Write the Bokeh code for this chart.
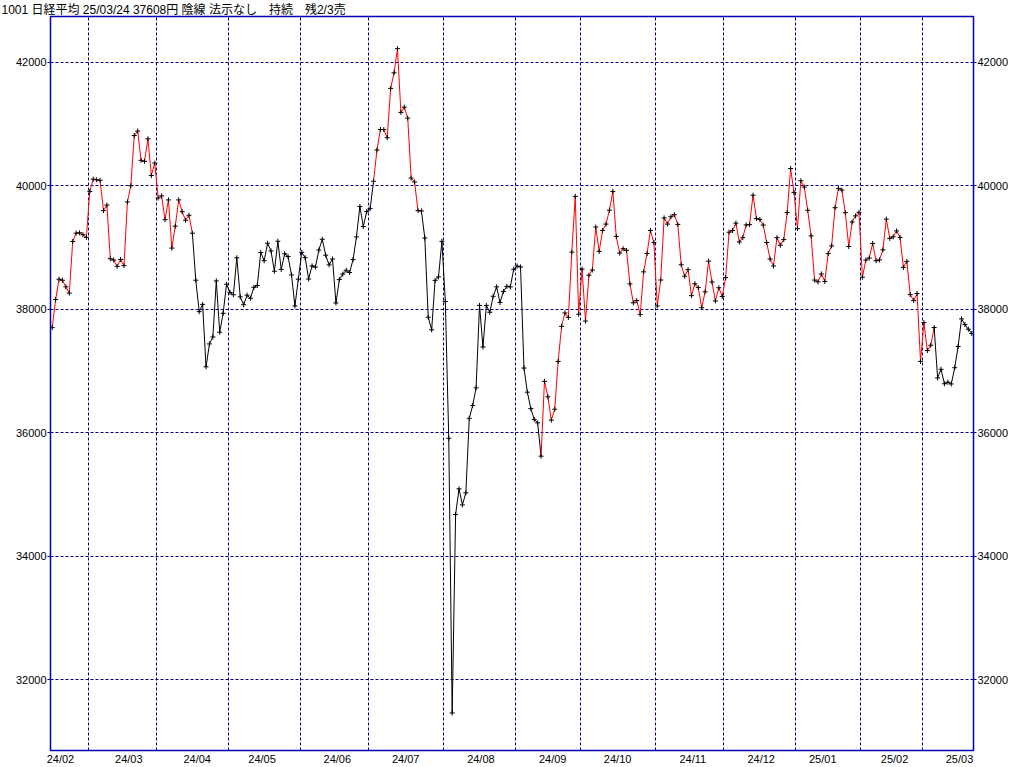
import pandas as pd
from bokeh.plotting import figure
from bokeh.models import Range1d, FixedTicker, LinearAxis, ColumnDataSource
from bokeh.embed import file_html
from bokeh.resources import INLINE

title_text = "1001 日経平均 25/03/24 37608円 陰線 法示なし\u3000持続\u3000残2/3売"

dates = [
    "2024-02-14", "2024-02-15", "2024-02-16", "2024-02-19", "2024-02-20", "2024-02-21", "2024-02-22",
    "2024-02-26", "2024-02-27", "2024-02-28", "2024-02-29",
    "2024-03-01", "2024-03-04", "2024-03-05", "2024-03-06", "2024-03-07", "2024-03-08", "2024-03-11",
    "2024-03-12", "2024-03-13", "2024-03-14", "2024-03-15", "2024-03-18", "2024-03-19", "2024-03-21",
    "2024-03-22", "2024-03-25", "2024-03-26", "2024-03-27", "2024-03-28", "2024-03-29",
    "2024-04-01", "2024-04-02", "2024-04-03", "2024-04-04", "2024-04-05", "2024-04-08", "2024-04-09",
    "2024-04-10", "2024-04-11", "2024-04-12", "2024-04-15", "2024-04-16", "2024-04-17", "2024-04-18",
    "2024-04-19", "2024-04-22", "2024-04-23", "2024-04-24", "2024-04-25", "2024-04-26", "2024-04-30",
    "2024-05-01", "2024-05-02", "2024-05-07", "2024-05-08", "2024-05-09", "2024-05-10", "2024-05-13",
    "2024-05-14", "2024-05-15", "2024-05-16", "2024-05-17", "2024-05-20", "2024-05-21", "2024-05-22",
    "2024-05-23", "2024-05-24", "2024-05-27", "2024-05-28", "2024-05-29", "2024-05-30", "2024-05-31",
    "2024-06-03", "2024-06-04", "2024-06-05", "2024-06-06", "2024-06-07", "2024-06-10", "2024-06-11",
    "2024-06-12", "2024-06-13", "2024-06-14", "2024-06-17", "2024-06-18", "2024-06-19", "2024-06-20",
    "2024-06-21", "2024-06-24", "2024-06-25", "2024-06-26", "2024-06-27", "2024-06-28",
    "2024-07-01", "2024-07-02", "2024-07-03", "2024-07-04", "2024-07-05", "2024-07-08", "2024-07-09",
    "2024-07-10", "2024-07-11", "2024-07-12", "2024-07-16", "2024-07-17", "2024-07-18", "2024-07-19",
    "2024-07-22", "2024-07-23", "2024-07-24", "2024-07-25", "2024-07-26", "2024-07-29", "2024-07-30",
    "2024-07-31",
    "2024-08-01", "2024-08-02", "2024-08-05", "2024-08-06", "2024-08-07", "2024-08-08", "2024-08-09",
    "2024-08-13", "2024-08-14", "2024-08-15", "2024-08-16", "2024-08-19", "2024-08-20", "2024-08-21",
    "2024-08-22", "2024-08-23", "2024-08-26", "2024-08-27", "2024-08-28", "2024-08-29", "2024-08-30",
    "2024-09-02", "2024-09-03", "2024-09-04", "2024-09-05", "2024-09-06", "2024-09-09", "2024-09-10",
    "2024-09-11", "2024-09-12", "2024-09-13", "2024-09-17", "2024-09-18", "2024-09-19", "2024-09-20",
    "2024-09-24", "2024-09-25", "2024-09-26", "2024-09-27", "2024-09-30",
    "2024-10-01", "2024-10-02", "2024-10-03", "2024-10-04", "2024-10-07", "2024-10-08", "2024-10-09",
    "2024-10-10", "2024-10-11", "2024-10-15", "2024-10-16", "2024-10-17", "2024-10-18", "2024-10-21",
    "2024-10-22", "2024-10-23", "2024-10-24", "2024-10-25", "2024-10-28", "2024-10-29", "2024-10-30",
    "2024-10-31",
    "2024-11-01", "2024-11-05", "2024-11-06", "2024-11-07", "2024-11-08", "2024-11-11", "2024-11-12",
    "2024-11-13", "2024-11-14", "2024-11-15", "2024-11-18", "2024-11-19", "2024-11-20", "2024-11-21",
    "2024-11-22", "2024-11-25", "2024-11-26", "2024-11-27", "2024-11-28", "2024-11-29",
    "2024-12-02", "2024-12-03", "2024-12-04", "2024-12-05", "2024-12-06", "2024-12-09", "2024-12-10",
    "2024-12-11", "2024-12-12", "2024-12-13", "2024-12-16", "2024-12-17", "2024-12-18", "2024-12-19",
    "2024-12-20", "2024-12-23", "2024-12-24", "2024-12-25", "2024-12-26", "2024-12-27", "2024-12-30",
    "2025-01-06", "2025-01-07", "2025-01-08", "2025-01-09", "2025-01-10", "2025-01-14", "2025-01-15",
    "2025-01-16", "2025-01-17", "2025-01-20", "2025-01-21", "2025-01-22", "2025-01-23", "2025-01-24",
    "2025-01-27", "2025-01-28", "2025-01-29", "2025-01-30", "2025-01-31",
    "2025-02-03", "2025-02-04", "2025-02-05", "2025-02-06", "2025-02-07", "2025-02-10", "2025-02-12",
    "2025-02-13", "2025-02-14", "2025-02-17", "2025-02-18", "2025-02-19", "2025-02-20", "2025-02-21",
    "2025-02-25", "2025-02-26", "2025-02-27", "2025-02-28",
    "2025-03-03", "2025-03-04", "2025-03-05", "2025-03-06", "2025-03-07", "2025-03-10", "2025-03-11",
    "2025-03-12", "2025-03-13", "2025-03-14", "2025-03-17", "2025-03-18", "2025-03-19", "2025-03-21",
    "2025-03-24",
]

closes = [
    37703, 38158, 38487, 38470, 38364, 38262, 39099, 39234, 39240, 39208, 39166,
    39911, 40109, 40098, 40091, 39599, 39689, 38820, 38798, 38696, 38807, 38708, 39740, 40004, 40816,
    40888, 40414, 40398, 40763, 40168, 40369,
    39803, 39839, 39452, 39773, 38992, 39347, 39773, 39582, 39443, 39524, 39233, 38471, 37962, 38080,
    37068, 37439, 37552, 38460, 37628, 37935, 38406,
    38274, 38236, 38835, 38202, 38074, 38229, 38179, 38356, 38386, 38920, 38787, 39070, 38947, 38617,
    39103, 38646, 38900, 38855, 38557, 38054, 38488,
    38923, 38837, 38490, 38704, 38684, 38960, 39135, 38877, 38720, 38815, 38102, 38482, 38571, 38633,
    38596, 38805, 39173, 39667, 39342, 39583,
    39631, 40075, 40581, 40914, 40912, 40781, 41580, 41832, 42224, 41191, 41275, 41098, 40126, 40064,
    39599, 39594, 39155, 37870, 37667, 38469, 38526, 39102,
    38126, 35910, 31458, 34675, 35090, 34831, 35025, 36233, 36442, 36727, 38063, 37389, 38063, 37952,
    38211, 38364, 38110, 38289, 38372, 38363, 38648,
    38701, 38686, 37048, 36657, 36391, 36216, 36159, 35620, 36833, 36582, 36203, 36380, 37155, 37724,
    37941, 37870, 38926, 39830, 37920,
    38652, 37809, 38552, 38636, 39333, 38938, 39278, 39381, 39606, 39911, 39180, 38911, 38982, 38955,
    38412, 38105, 38143, 37914, 38606, 38904, 39277, 39081,
    38054, 38475, 39481, 39381, 39500, 39533, 39376, 38722, 38536, 38643, 38221, 38414, 38352, 38026,
    38284, 38780, 38442, 38135, 38349, 38208,
    38513, 39249, 39276, 39396, 39091, 39161, 39368, 39372, 39849, 39470, 39457, 39365, 39082, 38814,
    38702, 39161, 39037, 39130, 39568, 40281, 39895,
    39307, 40083, 39981, 39605, 39190, 38474, 38445, 38573, 38451, 38903, 39028, 39646, 39959, 39932,
    39566, 39017, 39415, 39514, 39572,
    38520, 38798, 38831, 39067, 38787, 38801, 38964, 39461, 39149, 39174, 39270, 39165, 38678, 38777,
    38238, 38142, 38256, 37156,
    37785, 37331, 37418, 37705, 36887, 37028, 36793, 36819, 36790, 37053, 37397, 37845, 37752, 37677,
    37608,
]

# periods drawn in red (signal on)
red_periods = [("2024-02-14", "2024-04-15"), ("2024-07-02", "2024-07-23"), ("2024-09-11", "2025-03-06")]

y_ticks = [32000, 34000, 36000, 38000, 40000, 42000]
y_limits = [30850, 42745]

RED = "#ff0000"
BLACK = "#000000"
GRID = "#000080"
FRAME = "#0000b4"
TITLEFONT = "'Liberation Sans', 'Noto Sans CJK JP'"
NUMFONT = "Liberation Sans"

d = pd.to_datetime(dates)
n = len(d)
idx = list(range(n))

periods = [(pd.Timestamp(s), pd.Timestamp(e)) for s, e in red_periods]
seg_colors = []
for i in range(n - 1):
    a, b = d[i], d[i + 1]
    red = any(s <= a and b <= e for s, e in periods)
    seg_colors.append(RED if red else BLACK)

seg_src = ColumnDataSource(dict(x0=idx[:-1], y0=closes[:-1], x1=idx[1:], y1=closes[1:], c=seg_colors))
pt_src = ColumnDataSource(dict(x=idx, y=closes))

months = d.to_period("M")
bounds = [i - 0.5 for i in range(1, n) if months[i] != months[i - 1]]

label_pos = []
label_txt = {}
for m in months.unique():
    sel = [i for i in idx if months[i] == m and d[i].day <= 15]
    pos = round(sel[-1] + 1.4, 1)
    label_pos.append(pos)
    label_txt[pos] = m.strftime("%y/%m")

p = figure(width=1024, height=767,
           x_range=Range1d(-0.5, n - 0.5), y_range=Range1d(*y_limits),
           output_backend="svg", toolbar_location=None,
           min_border_left=50, min_border_right=51, min_border_top=0, min_border_bottom=0)

p.background_fill_color = "white"
p.border_fill_color = "white"
p.outline_line_color = FRAME
p.outline_line_width = 1.5

p.title.text = title_text
p.title.text_font = TITLEFONT
p.title.text_font_size = "12px"
p.title.text_font_style = "normal"
p.title.text_color = "black"
p.title.align = "left"
p.title.offset = -49
p.title.standoff = 0

# grids
p.xgrid.ticker = FixedTicker(ticks=bounds)
p.ygrid.ticker = FixedTicker(ticks=y_ticks)
for g in (p.xgrid, p.ygrid):
    g.grid_line_color = GRID
    g.grid_line_dash = "3 2"
    g.grid_line_width = 1

# x axis
xa = p.xaxis[0]
xa.ticker = FixedTicker(ticks=label_pos)
xa.major_label_overrides = label_txt
xa.axis_line_color = None
xa.major_tick_line_color = None
xa.minor_tick_line_color = None
xa.major_tick_out = 0
xa.major_tick_in = 0
xa.minor_tick_out = 0
xa.major_label_standoff = 2
xa.major_label_text_font = NUMFONT
xa.major_label_text_font_size = "11px"
xa.major_label_text_color = "black"

# y axes
ya = p.yaxis[0]
ya.ticker = FixedTicker(ticks=y_ticks)
ra = LinearAxis(ticker=FixedTicker(ticks=y_ticks))
p.add_layout(ra, "right")
for ax in (ya, ra):
    ax.axis_line_color = None
    ax.major_tick_in = 0
    ax.major_tick_out = 3
    ax.minor_tick_out = 0
    ax.major_tick_line_color = GRID
    ax.minor_tick_line_color = None
    ax.major_label_standoff = 1
    ax.major_label_text_font = NUMFONT
    ax.major_label_text_font_size = "11px"
    ax.major_label_text_color = "black"

p.segment(x0="x0", y0="y0", x1="x1", y1="y1", line_color="c", line_width=1, source=seg_src)
p.scatter(x="x", y="y", marker="cross", size=5, line_color=BLACK, line_width=1, source=pt_src)

open("out.html", "w").write(file_html(p, INLINE))
